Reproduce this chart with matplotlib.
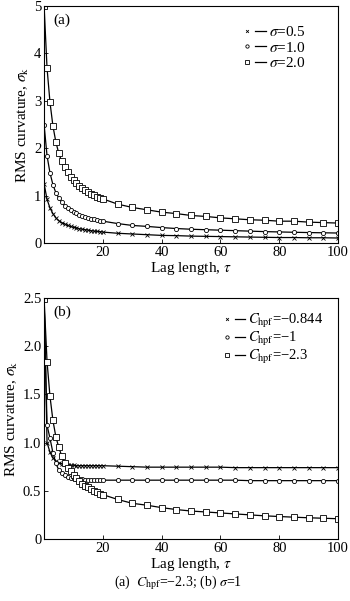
import matplotlib
matplotlib.use("Agg")
from matplotlib import pyplot as plt
from matplotlib.lines import Line2D
from matplotlib.legend_handler import HandlerTuple

plt.rcParams['font.family'] = ['Liberation Serif', 'DejaVu Serif']
plt.rcParams['mathtext.fontset'] = 'stix'

# lag lengths: every step up to 20, then every 5
tau = list(range(0, 21)) + list(range(25, 101, 5))

# (a) C_hpf = -2.3
rms_sigma05 = [1.25, 0.92, 0.74, 0.62, 0.53, 0.47, 0.43, 0.40, 0.37, 0.35, 0.33,
               0.32, 0.30, 0.29, 0.28, 0.27, 0.26, 0.25, 0.245, 0.24, 0.23,
               0.205, 0.19, 0.175, 0.16, 0.155, 0.145, 0.14, 0.135, 0.13, 0.125,
               0.12, 0.115, 0.115, 0.11, 0.11, 0.105]
rms_sigma1 = [2.49, 1.84, 1.48, 1.23, 1.06, 0.95, 0.86, 0.79, 0.74, 0.70, 0.66,
              0.63, 0.60, 0.575, 0.55, 0.535, 0.515, 0.50, 0.485, 0.47, 0.46,
              0.41, 0.37, 0.35, 0.325, 0.305, 0.29, 0.28, 0.27, 0.26, 0.25,
              0.24, 0.233, 0.226, 0.22, 0.215, 0.21]
rms_sigma2 = [5.0, 3.69, 2.97, 2.47, 2.13, 1.89, 1.72, 1.60, 1.49, 1.40, 1.33,
              1.27, 1.21, 1.16, 1.12, 1.08, 1.04, 1.01, 0.98, 0.95, 0.93,
              0.82, 0.75, 0.70, 0.65, 0.62, 0.58, 0.56, 0.53, 0.51, 0.49,
              0.48, 0.46, 0.46, 0.44, 0.43, 0.42]

# (b) sigma = 1
rms_c0844 = [2.49, 1.00, 0.90, 0.84, 0.81, 0.79, 0.78, 0.775, 0.77, 0.765, 0.765,
             0.76, 0.76, 0.76, 0.76, 0.76, 0.76, 0.76, 0.76, 0.76, 0.76,
             0.755, 0.75, 0.745, 0.745, 0.745, 0.745, 0.745, 0.745, 0.74, 0.74,
             0.74, 0.74, 0.74, 0.74, 0.74, 0.74]
rms_c1 = [2.49, 1.18, 1.045, 0.895, 0.785, 0.715, 0.68, 0.66, 0.645, 0.635, 0.63,
          0.625, 0.62, 0.62, 0.615, 0.615, 0.615, 0.615, 0.61, 0.61, 0.61,
          0.61, 0.61, 0.61, 0.61, 0.61, 0.61, 0.61, 0.61, 0.61, 0.605,
          0.605, 0.605, 0.605, 0.605, 0.605, 0.605]
rms_c23 = rms_sigma1

labels_a = [r'$\sigma$=0.5', r'$\sigma$=1.0', r'$\sigma$=2.0']
labels_b = [r'$C_\mathrm{hpf}$=−0.844', r'$C_\mathrm{hpf}$=−1', r'$C_\mathrm{hpf}$=−2.3']
markers = ['x', 'o', 's']
msizes = [2.6, 3.0, 3.8]

fig = plt.figure(figsize=(3.5, 6.01), dpi=100)
ax1 = fig.add_axes([0.126, 0.5957, 0.840, 0.3943])
ax2 = fig.add_axes([0.126, 0.1032, 0.840, 0.4010])


def draw(ax, series, labels, ylim, yticks, yticklabels, panel):
    handles = []
    for y, m, ms, lab in zip(series, markers, msizes, labels):
        ax.plot(tau, y, color='black', lw=0.9, marker=m, ms=ms,
                mfc='white', mec='black', mew=0.6)
        mk = Line2D([], [], ls='none', marker=m, ms=ms - 0.6, mfc='white',
                    mec='black', mew=0.6)
        ln = Line2D([], [], color='black', lw=0.9)
        handles.append((mk, ln))
    ax.set_xlim(0, 100)
    ax.set_ylim(*ylim)
    ax.set_xticks([20, 40, 60, 80, 100])
    ax.set_yticks(yticks)
    ax.set_yticklabels(yticklabels)
    ax.tick_params(direction='in', length=3, width=0.6, labelsize=10.5, pad=2)
    for s in ax.spines.values():
        s.set_linewidth(0.8)
    ax.set_xlabel(r'Lag length, $\tau$', fontsize=11, labelpad=1)
    ax.set_ylabel(r'RMS curvature, $\sigma_\mathrm{k}$', fontsize=11, labelpad=2)
    ax.text(0.03, 0.97, panel, transform=ax.transAxes, fontsize=11,
            ha='left', va='top')
    return handles


h1 = draw(ax1, [rms_sigma05, rms_sigma1, rms_sigma2], labels_a, (0, 5),
          [0, 1, 2, 3, 4, 5], ['0', '1', '2', '3', '4', '5'], '(a)')
ax1.legend(h1, labels_a, handler_map={tuple: HandlerTuple(ndivide=None, pad=0.2)},
           loc='upper right', bbox_to_anchor=(0.91, 0.945), frameon=False,
           fontsize=11, handlelength=1.6, handletextpad=0.2, labelspacing=0.1,
           borderaxespad=0)

h2 = draw(ax2, [rms_c0844, rms_c1, rms_c23], labels_b, (0, 2.5),
          [0, 0.5, 1.0, 1.5, 2.0, 2.5], ['0', '0.5', '1.0', '1.5', '2.0', '2.5'], '(b)')
ax2.legend(h2, labels_b, handler_map={tuple: HandlerTuple(ndivide=None, pad=0.2)},
           loc='upper right', bbox_to_anchor=(0.97, 0.965), frameon=False,
           fontsize=10.5, handlelength=1.6, handletextpad=0.2, labelspacing=0.0,
           borderaxespad=0)

fig.text(0.51, 0.030, r'(a)  $C_\mathrm{hpf}$=−2.3; (b) $\sigma$=1',
         ha='center', va='center', fontsize=10)

fig.savefig('out.png', dpi=100)
